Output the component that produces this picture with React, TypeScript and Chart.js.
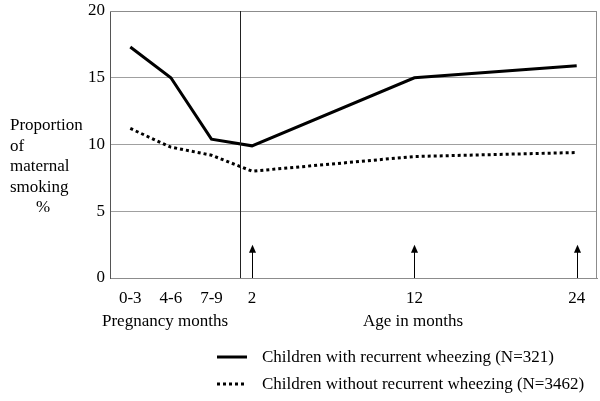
import React, { useEffect, useRef } from "react";
import { Chart, registerables } from "chart.js";

Chart.register(...registerables);

const categories = ["0-3", "4-6", "7-9", "2", "", "", "", "12", "", "", "", "24"];
const withWheezing = [17.3, 15.0, 10.4, 9.9, null, null, null, 15.0, null, null, null, 15.9];
const withoutWheezing = [11.2, 9.8, 9.2, 8.0, null, null, null, 9.1, null, null, null, 9.4];
const seriesNames = [
  "Children with recurrent wheezing (N=321)",
  "Children without recurrent wheezing (N=3462)",
];
const yTicks = [0, 5, 10, 15, 20];
const arrowCategories = ["2", "12", "24"];
const birthDivider = 2.7;
const yTitleLines = ["Proportion", "of", "maternal", "smoking"];
const FONT = "'Liberation Serif', 'Times New Roman', serif";

const overlay = {
  id: "overlay",
  afterDatasetsDraw(chart: any) {
    const { ctx, chartArea, scales } = chart;
    const x = scales.x;
    const y = scales.y;
    ctx.save();
    // border top/right
    ctx.strokeStyle = "#8c8c8c";
    ctx.lineWidth = 1;
    ctx.beginPath();
    ctx.moveTo(chartArea.left, chartArea.top + 0.5);
    ctx.lineTo(chartArea.right - 0.5, chartArea.top + 0.5);
    ctx.lineTo(chartArea.right - 0.5, chartArea.bottom);
    ctx.stroke();
    // birth divider
    const dx = Math.round(x.getPixelForValue(birthDivider)) + 0.5;
    ctx.strokeStyle = "#222";
    ctx.beginPath();
    ctx.moveTo(dx, chartArea.top);
    ctx.lineTo(dx, chartArea.bottom);
    ctx.stroke();
    // arrows
    ctx.fillStyle = "#000";
    ctx.strokeStyle = "#000";
    arrowCategories.forEach((c) => {
      const ax = Math.round(x.getPixelForValue(categories.indexOf(c))) + 0.5;
      const y0 = y.getPixelForValue(0);
      const y1 = y.getPixelForValue(2.5);
      ctx.beginPath();
      ctx.moveTo(ax, y0);
      ctx.lineTo(ax, y1 + 6);
      ctx.stroke();
      ctx.beginPath();
      ctx.moveTo(ax, y1);
      ctx.lineTo(ax - 3.5, y1 + 8);
      ctx.lineTo(ax + 3.5, y1 + 8);
      ctx.closePath();
      ctx.fill();
    });
    // y title
    ctx.fillStyle = "#000";
    ctx.font = `17px ${FONT}`;
    ctx.textBaseline = "middle";
    ctx.textAlign = "left";
    yTitleLines.forEach((t, i) => ctx.fillText(t, 10, 126 + i * 20.5));
    ctx.textAlign = "center";
    ctx.fillText("%", 43, 208);
    // x group titles
    ctx.fillText("Pregnancy months", 165, 322);
    ctx.fillText("Age in months", 413, 322);
    // legend
    chart.data.datasets.forEach((ds: any, i: number) => {
      const ly = 357 + i * 27;
      ctx.strokeStyle = ds.borderColor;
      ctx.lineWidth = ds.borderWidth;
      ctx.setLineDash(ds.borderDash || []);
      ctx.beginPath();
      ctx.moveTo(217, ly);
      ctx.lineTo(247, ly);
      ctx.stroke();
      ctx.setLineDash([]);
      ctx.textAlign = "left";
      ctx.fillStyle = "#000";
      ctx.fillText(ds.label, 262, ly + 1);
    });
    ctx.restore();
  },
};

export default function App() {
  const ref = useRef<HTMLCanvasElement>(null);
  useEffect(() => {
    document.body.style.margin = "0";
    const chart = new Chart(ref.current!, {
      type: "line",
      data: {
        labels: categories,
        datasets: [
          {
            label: seriesNames[0],
            data: withWheezing,
            borderColor: "#000",
            borderWidth: 3,
            pointRadius: 0,
            spanGaps: true,
            tension: 0,
          },
          {
            label: seriesNames[1],
            data: withoutWheezing,
            borderColor: "#000",
            borderWidth: 3,
            borderDash: [3, 3],
            pointRadius: 0,
            spanGaps: true,
            tension: 0,
          },
        ],
      },
      options: {
        animation: false,
        responsive: false,
        layout: { padding: { left: 0, right: 3, top: 0, bottom: 0 } },
        plugins: { legend: { display: false }, tooltip: { enabled: false } },
        scales: {
          x: {
            offset: true,
            grid: { display: false, drawTicks: false },
            border: { display: true, color: "#8c8c8c" },
            ticks: {
              autoSkip: false,
              maxRotation: 0,
              padding: 10,
              color: "#000",
              font: { family: FONT, size: 17 },
            },
            afterFit: (s: any) => {
              s.height = 123;
            },
          },
          y: {
            min: 0,
            max: 20,
            afterBuildTicks: (s: any) => {
              s.ticks = yTicks.map((v) => ({ value: v }));
            },
            grid: { color: "#a0a0a0", drawTicks: false },
            border: { display: true, color: "#555" },
            ticks: {
              padding: 5,
              color: "#000",
              font: { family: FONT, size: 17 },
            },
            afterFit: (s: any) => {
              s.width = 110;
              s.paddingTop = 11;
            },
          },
        },
      },
      plugins: [overlay],
    });
    return () => chart.destroy();
  }, []);
  return (
    <div style={{ width: 600, height: 401 }}>
      <canvas ref={ref} width={600} height={401} />
    </div>
  );
}
